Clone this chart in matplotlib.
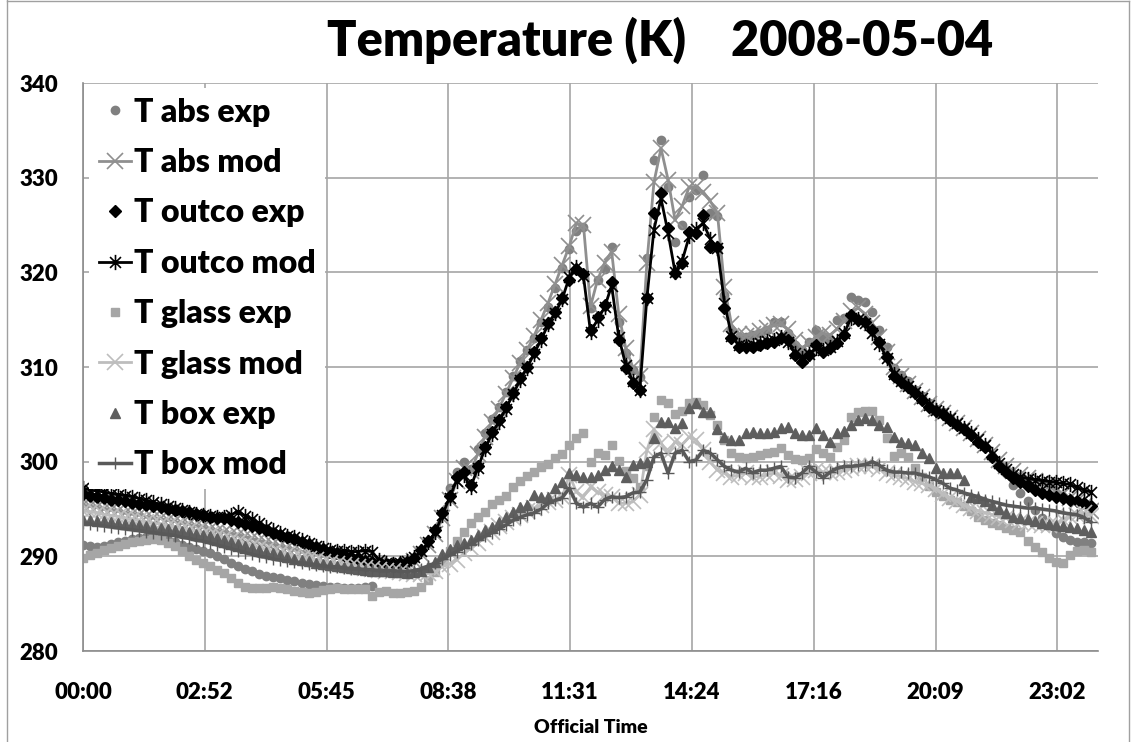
import numpy as np
import matplotlib
matplotlib.use('Agg')
import matplotlib.pyplot as plt
from matplotlib.path import Path
from matplotlib.lines import Line2D

plt.rcParams['font.family'] = ['Lato', 'DejaVu Sans']
plt.rcParams['font.weight'] = 'heavy'

nan = np.nan

# ---- data: one reading every 10 min over the day ----
t_min = np.arange(144) * 10.0

tick_labels = ['00:00', '02:52', '05:45', '08:38', '11:31', '14:24', '17:16', '20:09', '23:02']

T_abs_exp = [
    291.2, 291.1, 291.0, 291.1, 291.3, 291.5, 291.6, 291.8, 291.9, 292.0, 292.0, 291.9,
    291.7, 291.5, 291.2, 291.0, 290.8, 290.6, 290.3, 290.0, 289.7, 289.3, 289.0, 288.7,
    288.4, 288.1, 287.9, 287.8, 287.7, 287.5, 287.4, 287.2, 287.1, 287.0, 286.9, 286.8,
    286.8, 286.7, 286.7, 286.7, 286.8, 286.9, nan, nan, nan, nan, nan, nan,
    nan, nan, nan, nan, 297.2, 298.9, 300.0, 299.2, 301.3, 303.0, 304.5, 305.8,
    307.4, 309.0, 310.6, 311.8, 313.1, 314.8, 316.3, 318.3, 320.5, 322.5, 324.4, 324.8,
    316.2, 319.2, 320.3, 322.7, 314.8, 311.5, 309.7, 308.9, 321.5, 331.9, 334.0, 329.0,
    323.2, 325.0, 328.0, 328.7, 330.3, 326.3, 325.9, 317.6, 313.9, 313.2, 313.2, 313.4,
    313.6, 313.9, 314.8, 314.8, 313.6, 312.3, 311.8, 312.6, 313.9, 313.2, 313.0, 315.0,
    315.2, 317.4, 317.1, 316.9, 315.8, 313.9, 312.1, 309.9, 309.2, 308.5, 307.6, 306.9,
    306.2, 305.6, 305.2, 304.6, 304.0, 303.4, 302.8, 302.1, 301.5, 300.6, 299.7, 298.8,
    297.5, 296.7, 295.8, 294.9, 294.0, 293.2, 292.5, 292.0, 291.7, 291.5, 291.5, 291.4]

T_abs_mod = [
    295.4, 295.3, 295.2, 295.0, 294.9, 294.8, 294.6, 294.5, 294.4, 294.2, 294.1, 294.0,
    293.8, 293.7, 293.5, 293.4, 293.2, 293.1, 292.9, 292.7, 292.6, 292.4, 292.3, 292.1,
    291.9, 291.7, 291.5, 291.3, 291.1, 290.9, 290.7, 290.5, 290.3, 290.2, 290.0, 289.9,
    289.8, 289.7, 289.6, 289.5, 289.4, 289.3, 289.2, 289.1, 289.0, 289.0, 289.1, 289.5,
    290.2, 291.2, 292.4, 294.0, 296.0, 298.0, 299.3, 299.0, 300.8, 302.6, 304.2, 305.6,
    307.2, 308.8, 310.4, 311.8, 313.3, 315.0, 316.8, 318.8, 320.8, 322.8, 325.2, 325.0,
    316.4, 319.2, 321.0, 322.2, 315.6, 312.0, 310.0, 309.0, 321.0, 329.5, 333.1, 329.8,
    325.5, 327.0, 329.0, 329.0, 328.5, 327.5, 326.3, 318.5, 314.5, 313.5, 313.3, 313.5,
    313.8, 314.1, 314.4, 314.5, 314.0, 312.8, 312.0, 312.5, 313.2, 313.6, 313.4, 314.0,
    314.9, 315.9, 316.2, 315.6, 314.6, 313.2, 311.6, 310.0, 309.0, 308.2, 307.5, 306.8,
    306.1, 305.6, 305.1, 304.6, 304.1, 303.6, 303.0, 302.4, 301.8, 301.0, 300.2, 299.5,
    299.0, 298.6, 298.3, 298.0, 297.7, 297.4, 297.0, 296.6, 296.2, 295.8, 295.3, 294.8]

T_outco_exp = [
    296.6, 296.4, 296.3, 296.2, 296.0, 295.9, 295.8, 295.6, 295.5, 295.4, 295.3, 295.2,
    295.0, 294.9, 294.8, 294.7, 294.5, 294.4, 294.2, 294.1, 294.0, 293.8, 293.6, 293.4,
    293.2, 293.0, 292.8, 292.5, 292.3, 292.0, 291.8, 291.5, 291.3, 291.0, 290.8, 290.5,
    290.3, 290.1, 289.9, 289.7, 289.5, 289.4, 289.3, 289.2, 289.2, 289.3, 289.4, 289.8,
    290.7, 291.6, 292.8, 294.6, 296.4, 298.4, 298.9, 297.5, 299.5, 301.5, 303.1, 304.4,
    305.8, 307.3, 308.8, 310.0, 311.6, 313.1, 314.7, 315.8, 317.3, 319.2, 320.3, 319.8,
    313.9, 315.3, 316.6, 319.0, 312.9, 309.9, 308.3, 307.6, 317.3, 326.3, 328.4, 324.7,
    319.9, 321.0, 324.3, 324.2, 326.1, 322.7, 322.7, 316.2, 313.1, 312.1, 312.1, 312.1,
    312.3, 312.5, 312.6, 313.1, 312.8, 311.3, 310.5, 311.3, 312.3, 311.6, 312.0, 312.5,
    313.4, 315.5, 315.0, 314.8, 313.9, 312.6, 311.1, 309.0, 308.4, 307.9, 307.3, 306.5,
    305.8, 305.3, 305.0, 304.4, 303.9, 303.4, 302.8, 302.1, 301.5, 300.5, 299.5, 298.9,
    298.3, 297.8, 297.4, 297.0, 296.7, 296.5, 296.3, 296.2, 296.0, 295.8, 295.6, 295.3]

T_outco_mod = [
    297.2, 297.0, 296.9, 296.8, 296.6, 296.5, 296.4, 296.3, 296.1, 295.9, 295.7, 295.5,
    295.3, 295.1, 294.9, 294.7, 294.5, 294.4, 294.3, 294.2, 294.2, 294.4, 294.7, 294.3,
    293.9, 293.5, 293.1, 292.8, 292.5, 292.2, 292.0, 291.7, 291.4, 291.1, 290.9, 290.7,
    290.6, 290.6, 290.5, 290.5, 290.6, 290.5, 289.6, 289.3, 289.2, 289.3, 289.5, 289.9,
    290.6, 291.5, 292.6, 294.4, 296.2, 298.0, 298.6, 297.3, 299.3, 301.3, 302.9, 304.2,
    305.6, 307.1, 308.6, 309.9, 311.4, 312.9, 314.5, 315.7, 317.2, 319.5, 320.6, 319.6,
    313.7, 315.0, 316.3, 318.6, 313.2, 310.2, 308.5, 307.6, 317.3, 324.5, 327.8, 324.2,
    320.0, 321.2, 323.8, 324.6, 325.2, 323.5, 322.6, 316.8, 313.3, 312.3, 312.2, 312.3,
    312.5, 312.7, 312.9, 313.2, 312.6, 311.5, 310.9, 311.4, 312.0, 311.8, 312.1, 312.7,
    313.6, 315.2, 315.1, 314.6, 313.6, 312.4, 311.0, 309.3, 308.5, 308.0, 307.4, 306.7,
    306.0, 305.5, 305.1, 304.6, 304.1, 303.6, 303.0, 302.4, 301.8, 300.8, 299.9, 299.2,
    298.7, 298.4, 298.2, 298.1, 298.0, 297.9, 297.8, 297.7, 297.6, 297.3, 297.0, 296.8]

T_glass_exp = [
    289.8, 290.1, 290.4, 290.7, 290.9, 291.1, 291.3, 291.5, 291.6, 291.7, 291.8, 291.7,
    291.4, 291.1, 290.6, 290.0, 289.6, 289.3, 289.0, 288.6, 288.2, 287.7, 287.2, 286.8,
    286.7, 286.7, 286.7, 286.8, 286.7, 286.5, 286.3, 286.2, 286.1, 286.2, 286.4, 286.6,
    286.7, 286.6, 286.6, 286.5, 286.5, 285.8, 286.2, 286.3, 286.1, 286.1, 286.2, 286.3,
    286.8, 287.5, 288.3, 289.5, 290.6, 291.6, 292.6, 293.5, 294.2, 294.7, 295.5, 296.0,
    296.4, 297.3, 298.0, 298.5, 298.9, 299.4, 299.8, 300.4, 300.8, 301.8, 302.5, 303.0,
    300.0, 300.9, 300.7, 301.8, 300.1, 299.0, 298.3, 297.3, 299.5, 304.7, 306.5, 306.2,
    305.0, 305.3, 306.2, 306.3, 306.0, 304.9, 303.9, 302.3, 300.9, 300.5, 300.4, 300.5,
    300.7, 300.9, 301.0, 301.4, 300.7, 300.3, 300.2, 300.4, 301.3, 300.9, 300.5, 301.5,
    302.3, 304.7, 305.2, 305.3, 305.3, 304.4, 302.5, 300.6, 300.9, 300.5, 299.3, 298.4,
    297.4, 296.8, 296.4, 296.0, 295.7, 295.3, 294.8, 294.2, 293.8, 293.5, 293.3, 293.0,
    292.8, 292.6, 291.6, 291.0, 290.5, 289.8, 289.4, 289.3, 290.1, 290.6, 290.7, 290.5]

T_glass_mod = [
    294.8, 294.7, 294.6, 294.4, 294.3, 294.2, 294.0, 293.9, 293.8, 293.6, 293.5, 293.4,
    293.2, 293.1, 292.9, 292.8, 292.6, 292.4, 292.3, 292.1, 291.9, 291.7, 291.5, 291.3,
    291.1, 290.9, 290.7, 290.5, 290.3, 290.2, 290.0, 289.8, 289.7, 289.6, 289.4, 289.3,
    289.2, 289.1, 289.0, 288.9, 288.8, 288.7, 288.6, 288.5, 288.4, 288.3, 288.2, 288.1,
    288.1, 288.2, 288.5, 288.9, 289.2, 289.6, 290.3, 290.9, 291.4, 292.0, 292.6, 293.2,
    293.6, 294.0, 294.4, 294.8, 295.1, 295.4, 295.7, 296.0, 296.3, 298.6, 296.8, 296.3,
    297.3, 296.8, 296.5, 296.3, 295.6, 295.6, 295.8, 296.5, 301.2, 303.4, 302.0, 300.8,
    302.1, 301.8, 302.6, 302.3, 301.2, 300.0, 299.1, 298.8, 298.4, 298.6, 298.8, 298.4,
    298.4, 298.6, 298.8, 298.5, 298.1, 298.2, 298.4, 298.8, 299.1, 298.9, 298.8, 298.9,
    299.1, 299.3, 299.5, 299.5, 299.5, 299.2, 298.8, 298.6, 298.4, 298.2, 297.9, 297.7,
    297.5, 297.1, 296.6, 296.2, 295.8, 295.4, 295.1, 294.8, 294.6, 294.4, 294.2, 294.0,
    293.8, 293.6, 293.5, 293.4, 293.3, 293.3, 293.4, 293.8, 294.2, 294.4, 294.6, 294.3]

T_box_exp = [
    293.8, 293.8, 293.7, 293.7, 293.6, 293.5, 293.4, 293.4, 293.3, 293.2, 293.1, 293.0,
    292.9, 292.8, 292.7, 292.6, 292.4, 292.3, 292.1, 291.9, 291.7, 291.5, 291.3, 291.1,
    290.9, 290.7, 290.5, 290.3, 290.1, 289.9, 289.7, 289.6, 289.5, 289.3, 289.2, 289.1,
    289.0, 288.9, 288.8, 288.7, 288.6, 288.5, 288.4, 288.4, 288.3, 288.3, 288.2, 288.3,
    288.5, 288.9, 289.4, 290.2, 290.8, 291.2, 291.4, 291.7, 292.3, 292.8, 293.1, 293.6,
    294.2, 294.7, 295.2, 295.4, 296.5, 296.3, 296.3, 297.2, 297.8, 298.8, 298.6, 298.4,
    298.4, 298.6, 299.1, 299.5, 299.1, 298.4, 299.7, 299.9, 300.0, 302.5, 304.2, 304.2,
    303.6, 304.1, 305.7, 306.2, 305.2, 305.2, 303.4, 302.6, 302.3, 302.3, 303.0, 303.1,
    303.0, 303.0, 303.1, 303.6, 303.7, 303.0, 302.8, 302.8, 303.6, 302.8, 302.1, 303.0,
    303.2, 303.9, 304.4, 304.6, 304.4, 303.9, 303.7, 302.6, 302.1, 302.0, 301.8, 300.9,
    300.4, 299.3, 298.8, 298.8, 298.8, 298.1, 296.3, 296.2, 295.8, 295.4, 295.0, 294.6,
    294.2, 294.1, 293.9, 293.7, 293.5, 293.4, 293.3, 293.2, 293.1, 293.0, 292.8, 292.6]

T_box_mod = [
    293.5, 293.4, 293.3, 293.2, 293.1, 293.0, 292.9, 292.8, 292.7, 292.6, 292.5, 292.4,
    292.3, 292.2, 292.0, 291.9, 291.7, 291.6, 291.4, 291.2, 291.0, 290.8, 290.6, 290.4,
    290.2, 290.0, 289.9, 289.7, 289.6, 289.5, 289.4, 289.3, 289.2, 289.1, 289.0, 288.9,
    288.9, 288.8, 288.7, 288.7, 288.6, 288.6, 288.5, 288.5, 288.5, 288.4, 288.4, 288.5,
    288.7, 289.0, 289.3, 289.7, 290.1, 290.5, 290.9, 291.3, 291.7, 292.1, 292.5, 292.9,
    293.3, 293.8, 294.1, 294.4, 294.6, 295.0, 295.6, 295.9, 296.2, 297.2, 295.6, 295.2,
    295.6, 295.2, 296.0, 296.3, 296.2, 296.3, 296.7, 296.8, 298.1, 300.5, 300.9, 298.8,
    300.9, 301.2, 300.0, 300.2, 301.2, 300.9, 300.2, 299.5, 299.1, 298.9, 299.3, 298.8,
    299.1, 299.1, 299.3, 299.5, 298.4, 298.3, 298.8, 299.5, 298.9, 298.3, 298.9, 299.3,
    299.5, 299.5, 299.6, 299.7, 300.0, 299.6, 299.1, 298.9, 298.9, 298.8, 298.8, 298.6,
    298.4, 298.1, 297.7, 297.2, 297.0, 296.7, 296.5, 296.3, 296.0, 295.8, 295.6, 295.4,
    295.3, 295.2, 295.1, 295.1, 295.0, 294.9, 294.8, 294.6, 294.5, 294.4, 294.1, 293.6]

# asterisk marker (x with a vertical bar), like Excel's
star = Path([(-1, -1), (1, 1), (-1, 1), (1, -1), (0, -1.4), (0, 1.4)],
            [Path.MOVETO, Path.LINETO, Path.MOVETO, Path.LINETO, Path.MOVETO, Path.LINETO])

fig = plt.figure(figsize=(11.31, 7.42), dpi=100)
ax = fig.add_axes([83/1131, 1 - 651/742, (1098-83)/1131, (651-83)/742])

ax.plot(t_min, T_abs_exp, ls='none', marker='o', ms=6, color='#808080', mec='#808080', label='T abs exp')
ax.plot(t_min, T_abs_mod, color='#8F8F8F', lw=2, marker='x', ms=11, mew=1.2, label='T abs mod')
ax.plot(t_min, T_outco_exp, ls='none', marker='D', ms=6, color='black', label='T outco exp')
ax.plot(t_min, T_outco_mod, color='black', lw=2, marker=star, ms=11, mew=1.2, mfc='none', label='T outco mod')
ax.plot(t_min, T_glass_exp, ls='none', marker='s', ms=6, color='#A6A6A6', label='T glass exp')
ax.plot(t_min, T_glass_mod, color='#BDBDBD', lw=2, marker='x', ms=11, mew=1.2, label='T glass mod')
ax.plot(t_min, T_box_exp, ls='none', marker='^', ms=7, color='#5E5E5E', label='T box exp')
ax.plot(t_min, T_box_mod, color='#595959', lw=2.5, marker='+', ms=9, mew=1, label='T box mod')

ax.set_xlim(0, 1440)
ax.set_ylim(280, 340)
ax.set_xticks(np.arange(len(tick_labels)) * 172.8)
ax.set_xticklabels(tick_labels)
ax.set_yticks(np.arange(280, 341, 10))
ax.tick_params(axis='both', length=0, labelsize=16)
ax.tick_params(axis='y', pad=18)
ax.tick_params(axis='x', pad=22)
ax.grid(True, color='#A6A6A6', lw=1.2)
ax.set_axisbelow(True)
for s in ['top', 'right']:
    ax.spines[s].set_visible(False)
for s in ['left', 'bottom']:
    ax.spines[s].set_color('#8C8C8C')
    ax.spines[s].set_linewidth(1.2)

leg = ax.legend(loc='upper left', bbox_to_anchor=(0.006, 1.0 - 5/568), fontsize=23,
                frameon=True, fancybox=False, edgecolor='none', facecolor='white',
                framealpha=1, handlelength=1.0, handletextpad=0.1,
                labelspacing=0.67, borderpad=0.3, borderaxespad=0)

fig.text(0.584, 0.946, 'Temperature (K)    2008-05-04', ha='center', va='center',
         fontsize=35, fontweight='heavy')
fig.text(591/1131, 0.02, 'Official Time', ha='center', va='center',
         fontsize=14, fontweight='heavy')

# outer chart-area border
fig.add_artist(Line2D([0.006, 0.006], [0, 1], color='#A0A0A0', lw=1, transform=fig.transFigure))
fig.add_artist(Line2D([0.006, 0.998], [0.999, 0.999], color='#A0A0A0', lw=1, transform=fig.transFigure))
fig.add_artist(Line2D([0.998, 0.998], [0, 0.999], color='#A0A0A0', lw=1, transform=fig.transFigure))

fig.savefig('out.png', dpi=100)
